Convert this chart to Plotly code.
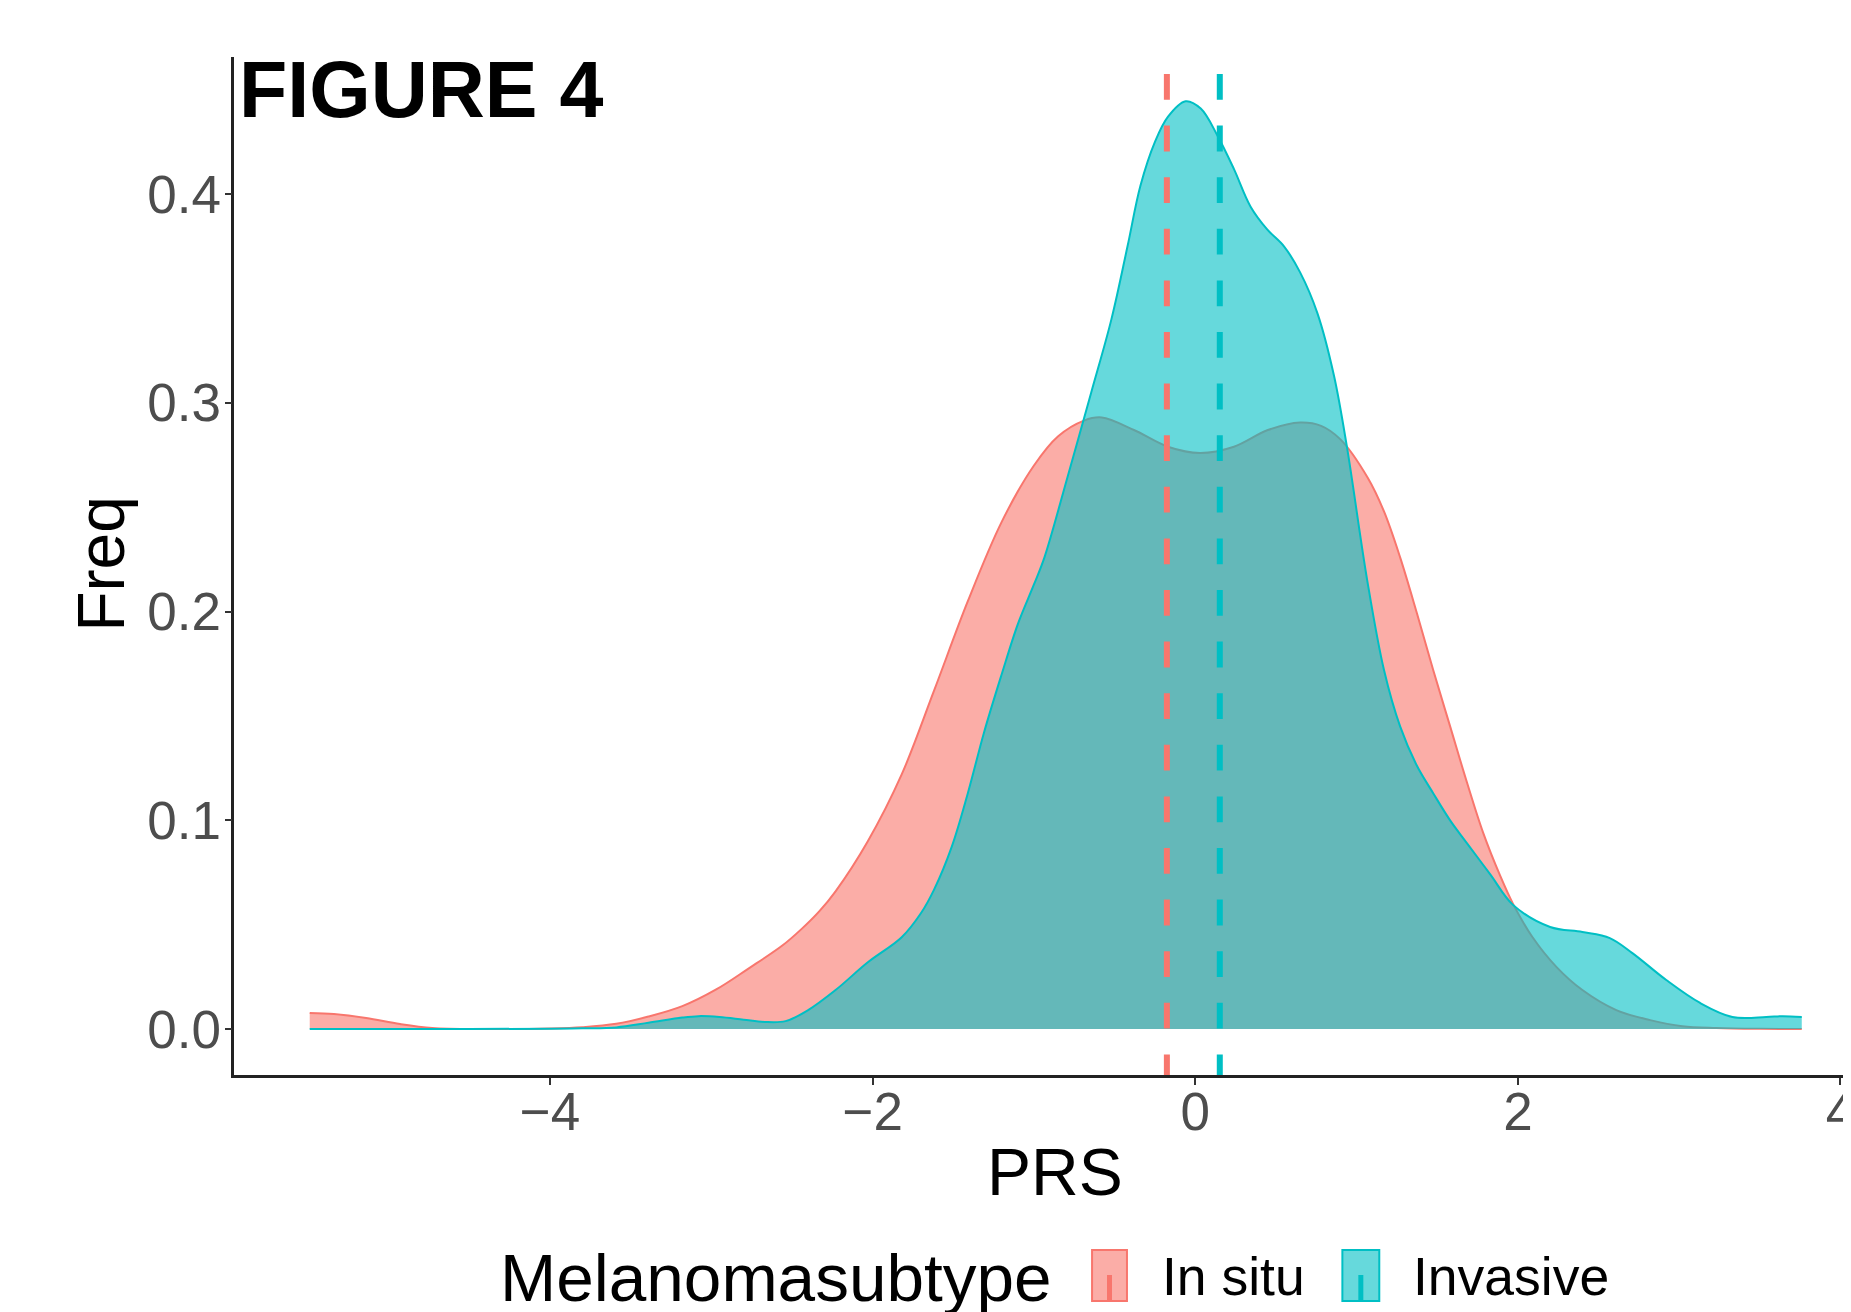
import plotly.graph_objects as go

W, H = 1851, 1312
OFF_X, OFF_Y = 4, 8  # page offset of the plot div as observed in the rendered page

# ---------------- data ----------------
groups = ["In situ", "Invasive"]
colors = ["#F8766D", "#00BFC4"]
fills = ["rgba(248,118,109,0.6)", "rgba(0,191,196,0.6)"]

insitu_x = [-5.49, -5.34, -5.14, -4.93, -4.73, -4.42, -4.0, -3.80, -3.59, -3.39, -3.18,
            -2.97, -2.77, -2.56, -2.44, -2.33, -2.23, -2.03, -1.82, -1.62, -1.41, -1.20, -1.00,
            -0.85, -0.69, -0.58, -0.38, -0.17, 0.03, 0.24, 0.45, 0.65, 0.78, 0.90, 1.07,
            1.17, 1.27, 1.375, 1.475, 1.58, 1.685, 1.785, 1.89, 1.97, 2.09, 2.24, 2.40, 2.61,
            2.82, 3.02, 3.23, 3.50, 3.76]
insitu_y = [0.0077, 0.0072, 0.0053, 0.0024, 0.0005, 0.0, 0.0003, 0.0009, 0.0025, 0.006, 0.011,
            0.019, 0.029, 0.040, 0.048, 0.0565, 0.066, 0.090, 0.122, 0.162, 0.205, 0.243, 0.270,
            0.284, 0.2915, 0.293, 0.287, 0.279, 0.276, 0.279, 0.287, 0.2906, 0.289, 0.2825, 0.264,
            0.248, 0.226, 0.199, 0.172, 0.145, 0.118, 0.094, 0.0735, 0.060, 0.0441, 0.0297, 0.0187, 0.0091,
            0.0043, 0.0014, 0.0005, 0.0001, 0.0]

invasive_x = [-5.49, -4.5, -4.0, -3.80, -3.59, -3.39, -3.18, -3.08, -2.95, -2.80, -2.67, -2.54,
              -2.40, -2.23, -2.03, -1.82, -1.70, -1.62, -1.51, -1.41, -1.31, -1.20, -1.10, -1.00,
              -0.935, -0.79, -0.645, -0.52, -0.42, -0.34, -0.25, -0.17, -0.06, 0.034, 0.138, 0.24,
              0.343, 0.447, 0.55, 0.65, 0.757, 0.86, 0.94, 1.066, 1.17, 1.27, 1.375, 1.475, 1.58,
              1.685, 1.83, 1.97, 2.20, 2.40, 2.57, 2.71, 2.92, 3.13, 3.33, 3.54, 3.64, 3.76]
invasive_y = [0.0, 0.0, 0.0002, 0.0004, 0.0008, 0.003, 0.0055, 0.0062, 0.0058, 0.0045, 0.0034, 0.0038,
              0.0091, 0.0187, 0.032, 0.044, 0.0556, 0.0667, 0.0873, 0.113, 0.142, 0.170, 0.194, 0.213,
              0.226, 0.265, 0.305, 0.340, 0.375, 0.404, 0.425, 0.437, 0.4445, 0.441, 0.428, 0.412,
              0.394, 0.383, 0.375, 0.3625, 0.343, 0.313, 0.279, 0.215, 0.172, 0.145, 0.126, 0.113, 0.100,
              0.089, 0.074, 0.0595, 0.0489, 0.0465, 0.0436, 0.0364, 0.0235, 0.0125, 0.0058, 0.0058, 0.0062,
              0.0058]

group_means = [-0.176, 0.152]

x_ticks = [-4, -2, 0, 2, 4]
y_ticks = [0.0, 0.1, 0.2, 0.3, 0.4]
x_range = [-5.957, 4.059]
y_range = [-0.022, 0.4657]

FW, FH = W - OFF_X, H - OFF_Y


# ---------------- helpers: page pixel -> paper fraction ----------------
def px_x(p):
    return (p - OFF_X) / FW


def px_y(p):
    return 1 - (p - OFF_Y) / FH


FONT = "Liberation Sans, Arial, sans-serif"

fig = go.Figure()

series = [(insitu_x, insitu_y), (invasive_x, invasive_y)]
for (xs, ys), c, f, name in zip(series, colors, fills, groups):
    fig.add_trace(go.Scatter(
        x=xs, y=ys, mode="lines", name=name,
        line=dict(color=c, width=2, shape="spline", smoothing=1.0),
        fill="tozeroy", fillcolor=f, showlegend=False, hoverinfo="skip",
    ))

# vertical mean lines span the whole panel (dash phase starts just below it)
for m, c in zip(group_means, colors):
    fig.add_trace(go.Scatter(
        x=[m, m], y=[y_range[0] - 0.0025, y_range[1]], mode="lines",
        line=dict(color=c, width=6, dash="25.8px,25.8px"),
        showlegend=False, hoverinfo="skip",
    ))

axis_common = dict(
    showgrid=False, zeroline=False, showline=True, linecolor="#222222", linewidth=2.5,
    ticks="outside", ticklen=7, tickwidth=2, tickcolor="#333333",
    tickfont=dict(size=53, color="#4D4D4D", family=FONT),
)

fig.update_layout(
    width=FW, height=FH,
    margin=dict(l=0, r=0, t=0, b=0),
    paper_bgcolor="white", plot_bgcolor="white",
    font=dict(family=FONT, color="#4D4D4D"),
    xaxis=dict(domain=[px_x(231), 1.0], range=x_range, tickvals=x_ticks,
               ticklabeloverflow="allow", ticklabelstandoff=-18, **axis_common),
    yaxis=dict(domain=[px_y(1075), px_y(57)], range=y_range, tickvals=y_ticks,
               tickformat=".1f", ticklabelstandoff=-7, **axis_common),
)

ann = []
ann.append(dict(text="<b>FIGURE 4</b>", x=px_x(234), y=px_y(43), xref="paper", yref="paper",
                xanchor="left", yanchor="top", showarrow=False,
                font=dict(size=79, color="black", family=FONT)))
ann.append(dict(text="PRS", x=px_x(1054), y=px_y(1172), xref="paper", yref="paper",
                xanchor="center", yanchor="middle", showarrow=False,
                font=dict(size=66, color="black", family=FONT)))
ann.append(dict(text="Freq", x=px_x(97), y=px_y(564), xref="paper", yref="paper",
                xanchor="center", yanchor="middle", textangle=-90, showarrow=False,
                font=dict(size=66, color="black", family=FONT)))
ann.append(dict(text="Melanomasubtype", x=px_x(495), y=px_y(1277), xref="paper", yref="paper",
                xanchor="left", yanchor="middle", showarrow=False,
                font=dict(size=67.5, color="black", family=FONT)))

shapes = []
key_x = [(1091, 1126), (1342, 1379)]
label_x = [1159, 1411]
for (x0, x1), c, f, name, lx in zip(key_x, colors, fills, groups, label_x):
    shapes.append(dict(type="rect", xref="paper", yref="paper",
                       x0=px_x(x0), x1=px_x(x1), y0=px_y(1301), y1=px_y(1250),
                       fillcolor=f, line=dict(color=c, width=2)))
    xm = (x0 + x1) / 2
    shapes.append(dict(type="line", xref="paper", yref="paper",
                       x0=px_x(xm), x1=px_x(xm), y0=px_y(1301), y1=px_y(1275),
                       line=dict(color=c, width=5)))
    ann.append(dict(text=name, x=px_x(lx), y=px_y(1276), xref="paper", yref="paper",
                    xanchor="left", yanchor="middle", showarrow=False,
                    font=dict(size=53.5, color="black", family=FONT)))

fig.update_layout(annotations=ann, shapes=shapes)

fig.write_html("out.html")
